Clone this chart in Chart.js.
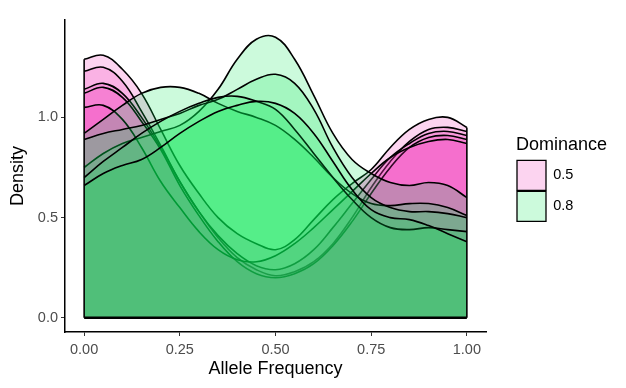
<!DOCTYPE html>
<html>
<head>
<meta charset="utf-8">
<script src="https://cdn.jsdelivr.net/npm/chart.js@4.4.1/dist/chart.umd.min.js"></script>
<style>
html,body{margin:0;padding:0;background:#fff;}
#wrap{width:626px;height:388px;position:relative;}
</style>
</head>
<body>
<div id="wrap"><canvas id="c" width="626" height="388"></canvas></div>
<script>
// x grid of the density estimates (Allele Frequency)
const xGrid = [0,0.05,0.1,0.15,0.2,0.25,0.3,0.35,0.4,0.45,0.5,0.55,0.6,0.65,0.7,0.75,0.8,0.85,0.9,0.95,1.0];

// Dominance 0.5 densities
const pinkA = [1.29,1.31,1.24,1.12,0.94,0.76,0.62,0.50,0.42,0.37,0.34,0.39,0.49,0.59,0.67,0.74,0.85,0.94,0.99,1.00,0.95];
const pinkB = [1.23,1.25,1.18,1.03,0.86,0.68,0.53,0.40,0.30,0.24,0.21,0.23,0.28,0.37,0.50,0.65,0.78,0.88,0.94,0.95,0.93];
const pinkC = [1.14,1.17,1.12,1.00,0.85,0.68,0.53,0.41,0.32,0.26,0.24,0.27,0.34,0.45,0.57,0.69,0.80,0.87,0.92,0.93,0.91];
const pinkD = [1.12,1.15,1.10,0.98,0.84,0.66,0.51,0.38,0.28,0.22,0.20,0.22,0.27,0.36,0.48,0.62,0.75,0.85,0.90,0.91,0.89];
const pinkE = [1.05,1.06,0.99,0.85,0.68,0.55,0.43,0.34,0.29,0.28,0.31,0.37,0.45,0.54,0.63,0.72,0.80,0.85,0.88,0.89,0.87];

// Dominance 0.8 densities
const greenA = [0.75,0.82,0.87,0.90,0.93,0.96,1.03,1.14,1.29,1.39,1.40,1.29,1.11,0.92,0.79,0.72,0.675,0.66,0.675,0.66,0.60];
const greenB = [0.92,0.99,1.06,1.12,1.15,1.15,1.12,1.07,1.03,1.00,0.96,0.89,0.80,0.70,0.62,0.57,0.56,0.57,0.57,0.55,0.51];
const greenC = [0.89,0.92,0.94,0.96,0.99,1.02,1.06,1.09,1.14,1.19,1.215,1.17,1.04,0.85,0.70,0.60,0.55,0.53,0.53,0.52,0.50];
const greenD = [0.70,0.78,0.85,0.92,0.98,1.03,1.07,1.10,1.105,1.08,1.04,0.94,0.82,0.70,0.59,0.50,0.45,0.44,0.45,0.44,0.43];
const greenE = [0.66,0.72,0.76,0.79,0.85,0.92,0.98,1.03,1.06,1.08,1.07,1.02,0.92,0.78,0.64,0.54,0.50,0.49,0.46,0.42,0.38];

const pinkSeries = [pinkA, pinkB, pinkC, pinkD, pinkE];
const greenSeries = [greenA, greenB, greenC, greenD, greenE];
const legendLabels = ['0.5', '0.8'];
const xTicks = [0, 0.25, 0.5, 0.75, 1];
const yTicks = [0, 0.5, 1.0];

const PINK = 'rgba(240,42,182,0.2)';
const GREEN = 'rgba(0,232,78,0.2)';
const FONT = "'Liberation Sans', Arial, Helvetica, sans-serif";

const toPts = arr => arr.map((y, i) => ({x: xGrid[i], y}));
const layers = [];
pinkSeries.forEach(s => layers.push({data: toPts(s), fill: PINK}));
greenSeries.forEach(s => layers.push({data: toPts(s), fill: GREEN}));
const all = pinkSeries.concat(greenSeries);
const leftTop = Math.max(...all.map(s => s[0]));
const rightTop = Math.max(...all.map(s => s[s.length - 1]));

const N = layers.length + 3;
const datasets = layers.map((l, i) => ({
  label: 'd' + i,
  data: l.data,
  fill: 'origin',
  backgroundColor: l.fill,
  borderColor: '#000',
  borderWidth: 1.6,
  tension: 0.4,
  pointRadius: 0,
  order: N - i
}));
// polygon edges (left, right, baseline)
const edge = (pts, o) => ({label: 'edge', data: pts, fill: false, borderColor: '#000', borderWidth: 1.6, tension: 0, pointRadius: 0, order: o});
datasets.push(edge([{x: 0, y: 0}, {x: 0, y: leftTop}], 2));
datasets.push(edge([{x: 1, y: 0}, {x: 1, y: rightTop}], 1));
datasets.push(Object.assign(edge([{x: 0, y: 0}, {x: 1, y: 0}], 0), {borderWidth: 2.4}));

// legend placement helper (ggplot-style legend to the right of the panel)
const LEGEND_W = 140, LEGEND_SHIFT_X = 30, LEGEND_SHIFT_Y = -21;
const legendPlace = {
  id: 'legendPlace',
  afterInit(chart) {
    const lg = chart.legend;
    const f = lg.fit.bind(lg);
    lg.fit = function () { f(); this.width = LEGEND_W; };
  },
  afterLayout(chart) {
    const lg = chart.legend;
    lg.left += LEGEND_SHIFT_X; lg.right += LEGEND_SHIFT_X;
    lg.top += LEGEND_SHIFT_Y; lg.bottom += LEGEND_SHIFT_Y;
  }
};

new Chart(document.getElementById('c'), {
  type: 'line',
  data: {datasets},
  plugins: [legendPlace],
  options: {
    responsive: false,
    animation: false,
    layout: {padding: {left: 7, top: 20, right: 0, bottom: 8}},
    plugins: {
      tooltip: {enabled: false},
      legend: {
        position: 'right',
        align: 'center',
        title: {display: true, text: 'Dominance', color: '#000', position: 'start', font: {family: FONT, size: 18}, padding: {top: 0, bottom: 2}},
        labels: {
          boxWidth: 29, boxHeight: 30, padding: 1, color: '#000',
          font: {family: FONT, size: 14.5},
          generateLabels: () => legendLabels.map((t, i) => ({
            text: t,
            fillStyle: i === 0 ? PINK : GREEN,
            strokeStyle: '#000',
            lineWidth: 1.3,
            hidden: false,
            datasetIndex: i
          }))
        },
        onClick: () => {}
      }
    },
    scales: {
      x: {
        type: 'linear', min: -0.05, max: 1.05,
        afterBuildTicks: s => { s.ticks = xTicks.map(v => ({value: v})); },
        afterFit: s => { s.height = 48; },
        ticks: {callback: v => Number(v).toFixed(2), color: '#4d4d4d', font: {family: FONT, size: 14.5}, padding: 5, maxRotation: 0},
        grid: {drawOnChartArea: false, drawTicks: true, tickLength: 4, color: '#333'},
        border: {display: true, color: '#000', width: 1.5},
        title: {display: true, text: 'Allele Frequency', color: '#000', font: {family: FONT, size: 18}, padding: {top: 0, bottom: 0}}
      },
      y: {
        type: 'linear', min: -0.0708, max: 1.486,
        afterBuildTicks: s => { s.ticks = yTicks.map(v => ({value: v})); },
        afterFit: s => { s.width = 58; },
        ticks: {callback: v => Number(v).toFixed(1), color: '#4d4d4d', font: {family: FONT, size: 14.5}, padding: 3},
        grid: {drawOnChartArea: false, drawTicks: true, tickLength: 4, color: '#333'},
        border: {display: true, color: '#000', width: 1.5},
        title: {display: true, text: 'Density', color: '#000', font: {family: FONT, size: 18}, padding: {top: 0, bottom: 0}}
      }
    }
  }
});
</script>
</body>
</html>
